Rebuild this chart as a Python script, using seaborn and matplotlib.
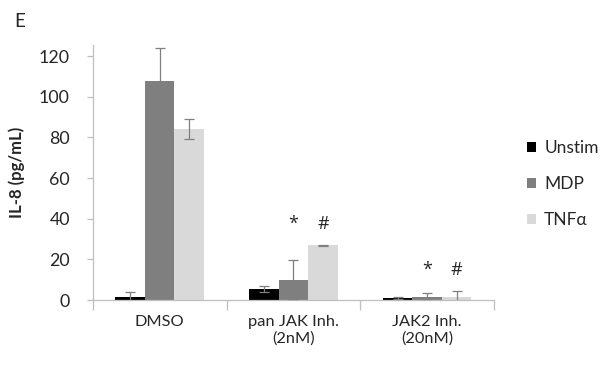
import numpy as np
import pandas as pd
import matplotlib
matplotlib.use("Agg")
import matplotlib.pyplot as plt
import seaborn as sns
from matplotlib.patches import Patch

# IL-8 secretion by treatment and stimulus
treatments = ["DMSO", "pan JAK Inh.\n(2nM)", "JAK2 Inh.\n(20nM)"]
stimuli = ["Unstim", "MDP", "TNFα"]
unstim_mean = [1.5, 5.4, 1.0]
mdp_mean = [107.5, 10.0, 1.5]
tnf_mean = [84.0, 27.0, 1.5]
unstim_err = [2.5, 1.5, 0.6]
mdp_err = [16.5, 9.7, 1.8]
tnf_err = [5.0, 0.2, 2.8]
marks = [["", "", ""], ["", "*", "#"], ["", "*", "#"]]

colors = ["#000000", "#7f7f7f", "#d9d9d9"]
axis_grey = "#bfbfbf"
text_col = "#262626"

sns.set_theme(style="white")
plt.rcParams["font.family"] = ["Lato", "DejaVu Sans"]

rows = []
for i, t in enumerate(treatments):
    for s, m, e in zip(stimuli, [unstim_mean, mdp_mean, tnf_mean],
                       [unstim_err, mdp_err, tnf_err]):
        rows.append({"treatment": t, "stimulus": s, "mean": m[i], "err": e[i]})
df = pd.DataFrame(rows)
df["top"] = df["mean"] + df["err"]
group_top = df.groupby("treatment")["top"].max()

fig = plt.figure(figsize=(6.10, 3.65), dpi=100)
ax = fig.add_axes([0.152, 0.178, 0.658, 0.699])

sns.barplot(data=df, x="treatment", y="mean", hue="stimulus",
            order=treatments, hue_order=stimuli, palette=colors,
            width=0.66, errorbar=None, saturation=1, legend=False,
            edgecolor="none", linewidth=0, ax=ax)

# error bars and significance marks on top of each bar
for j, s in enumerate(stimuli):
    cont = ax.containers[j]
    sub = df[df["stimulus"] == s].set_index("treatment").loc[treatments]
    for k, (patch, (t, r)) in enumerate(zip(cont.patches, sub.iterrows())):
        xc = patch.get_x() + patch.get_width() / 2
        h = patch.get_height()
        ax.errorbar(xc, h, yerr=r["err"], fmt="none", ecolor="#7f7f7f",
                    elinewidth=0.9, capsize=3.5, capthick=0.9, zorder=3)
        label = marks[k][j]
        if label:
            ax.text(xc, group_top[t] + 6, label, ha="center", va="bottom",
                    fontsize=13, color=text_col,
                    family=["Open Sans", "DejaVu Sans"])

ax.set_xlim(-0.5, 2.5)
ax.set_ylim(0, 125.5)
ax.set_yticks(np.arange(0, 121, 20))
ax.set_xticks(range(len(treatments)))
ax.set_xticklabels(treatments, fontsize=11.75, color=text_col, linespacing=1.2)
ax.set_xticks([-0.5, 0.5, 1.5, 2.5], minor=True)
ax.tick_params(axis="x", which="major", length=0, pad=11)
ax.tick_params(axis="x", which="minor", length=7, width=0.9, color=axis_grey,
               direction="out", bottom=True)
ax.tick_params(axis="y", length=4.5, width=0.9, color=axis_grey,
               direction="out", left=True, labelsize=12.75,
               labelcolor=text_col, pad=12)
ax.set_xlabel("")
ax.set_ylabel("IL-8 (pg/mL)", fontsize=12, fontweight="bold", color=text_col,
              labelpad=10)

for side in ["top", "right"]:
    ax.spines[side].set_visible(False)
for side in ["left", "bottom"]:
    ax.spines[side].set_color(axis_grey)
    ax.spines[side].set_linewidth(0.9)
    ax.spines[side].set_clip_on(False)

handles = [Patch(facecolor=c, edgecolor="none") for c in colors]
fig.legend(handles, stimuli, loc="center left", bbox_to_anchor=(0.838, 0.495),
           frameon=False, fontsize=12.5, handlelength=0.55, handleheight=0.55,
           handletextpad=0.45, labelspacing=1.15, labelcolor=text_col)

fig.text(0.024, 0.941, "E", fontsize=13.5, color=text_col, va="center")

fig.savefig("out.png", dpi=100)
